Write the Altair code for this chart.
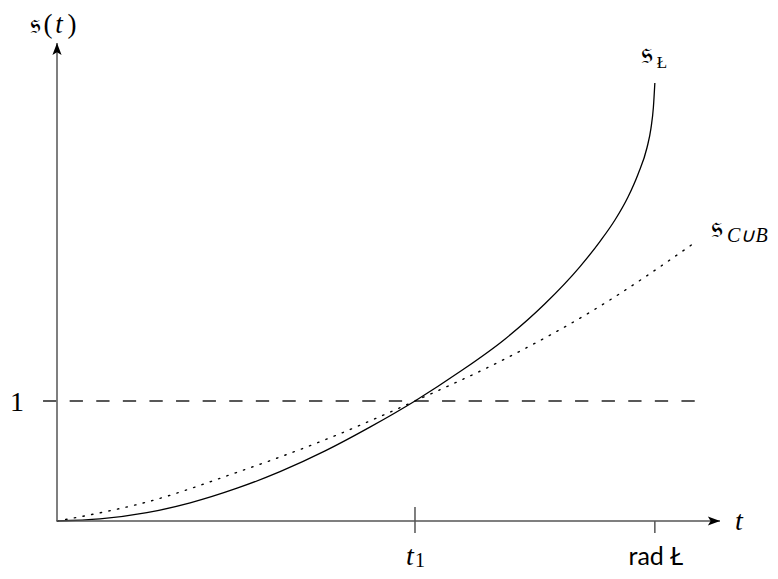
import altair as alt
import pandas as pd

# --- data (t in units of t1, s in units of the level 1) ---
solid_t = [0.0, 0.120, 0.251, 0.372, 0.503, 0.623, 0.749, 0.874, 1.0, 1.126, 1.251,
           1.363, 1.461, 1.517, 1.559, 1.595, 1.623, 1.648, 1.659, 1.666, 1.670]
solid_s = [0.0, 0.017, 0.069, 0.151, 0.273, 0.411, 0.584, 0.782, 1.0, 1.245, 1.515,
           1.810, 2.120, 2.330, 2.510, 2.700, 2.890, 3.110, 3.270, 3.450, 3.650]

dot_t = [0.0, 0.120, 0.251, 0.492, 0.749, 1.0, 1.251, 1.503, 1.788]
dot_s = [0.0, 0.068, 0.158, 0.394, 0.677, 1.0, 1.350, 1.765, 2.333]

T1 = 1.0          # t_1
RAD = 1.670       # rad Ł
LEVEL = 1.0       # the level 1
XMAX = 1.852      # end of t axis (arrow tip)
YMAX = 3.983      # end of s axis (arrow tip)
DASH_FROM = -0.039
DASH_TO = 1.788

AXIS_COL = "#555555"
SERIF = "Liberation Serif"
SANS = "Lato"
FRAK = "DejaVu Serif"

xs = alt.Scale(domain=[0, XMAX], nice=False, zero=False)
ys = alt.Scale(domain=[0, YMAX], nice=False, zero=False)


def X(f="t"):
    return alt.X(f"{f}:Q", scale=xs, axis=None)


def Y(f="s"):
    return alt.Y(f"{f}:Q", scale=ys, axis=None)


solid = pd.DataFrame({"t": solid_t, "s": solid_s})
dotted = pd.DataFrame({"t": dot_t, "s": dot_s})

solid_line = alt.Chart(solid).mark_line(color="black", strokeWidth=1.3,
                                        interpolate="monotone").encode(x=X(), y=Y())
dotted_line = alt.Chart(dotted).mark_line(color="black", strokeWidth=1.4,
                                          strokeDash=[1.4, 7.4], strokeCap="round",
                                          interpolate="monotone").encode(x=X(), y=Y())

dash = alt.Chart(pd.DataFrame({"t": [DASH_FROM], "t2": [DASH_TO], "s": [LEVEL]})).mark_rule(
    color="#222222", strokeWidth=1.4, strokeDash=[13.3, 13.3]
).encode(x=X(), x2="t2:Q", y=Y())

# axes
xaxis = alt.Chart(pd.DataFrame({"t": [0.0], "t2": [XMAX], "s": [0.0]})).mark_rule(
    color=AXIS_COL, strokeWidth=1.5).encode(x=X(), x2="t2:Q", y=Y())
yaxis = alt.Chart(pd.DataFrame({"t": [0.0], "s": [0.0], "s2": [YMAX]})).mark_rule(
    color=AXIS_COL, strokeWidth=1.5).encode(x=X(), y=Y(), y2="s2:Q")

ARROW = "M1,0 L-1,-0.75 L-0.55,0 L-1,0.75 Z"
xarrow = alt.Chart(pd.DataFrame({"t": [XMAX], "s": [0.0]})).mark_point(
    shape=ARROW, filled=True, size=150, color="black", opacity=1, xOffset=-6
).encode(x=X(), y=Y())
yarrow = alt.Chart(pd.DataFrame({"t": [0.0], "s": [YMAX]})).mark_point(
    shape=ARROW, filled=True, size=150, color="black", opacity=1, angle=270, yOffset=6
).encode(x=X(), y=Y())

ticks = alt.Chart(pd.DataFrame({"t": [T1, RAD], "s": [0.117, 0.0], "s2": [-0.1, -0.1]})).mark_rule(
    color=AXIS_COL, strokeWidth=1.5).encode(x=X(), y=Y(), y2="s2:Q")


def label(t, s, text, dx=0, dy=0, size=28, font=SERIF, style="normal",
          align="center", baseline="alphabetic"):
    return alt.Chart(pd.DataFrame({"t": [t], "s": [s]})).mark_text(
        text=text, dx=dx, dy=dy, fontSize=size, font=font, fontStyle=style,
        align=align, baseline=baseline, color="black"
    ).encode(x=X(), y=Y())


texts = [
    # y axis title  s(t)
    label(0.0, YMAX, "𝔰", dx=-22, dy=-10, size=28, font=FRAK),
    label(0.0, YMAX, "(", dx=-9, dy=-10, size=27),
    label(0.0, YMAX, "t", dx=2, dy=-10, size=27, style="italic"),
    label(0.0, YMAX, ")", dx=15, dy=-10, size=27),
    # x axis title
    label(XMAX, 0.0, "t", dx=19, dy=9, size=28, style="italic"),
    # level 1
    label(0.0, LEVEL, "1", dx=-40, dy=10, size=28),
    # t1
    label(T1, 0.0, "t", dx=-5, dy=44, size=28, style="italic"),
    label(T1, 0.0, "1", dx=5, dy=46, size=20),
    # rad Ł
    label(RAD, 0.0, "rad Ł", dx=1, dy=44, size=25, font=SANS),
    # curve labels
    label(RAD, solid_s[-1], "𝔰", dx=-8, dy=-20, size=31, font=FRAK),
    label(RAD, solid_s[-1], "Ł", dx=7, dy=-15, size=17, font=SERIF),
    label(dot_t[-1], dot_s[-1], "𝔰", dx=20, dy=-4, size=31, font=FRAK),
    label(dot_t[-1], dot_s[-1], "C∪B", dx=30, dy=1, size=20, font=SERIF,
          style="italic", align="left"),
]

chart = alt.layer(
    dash, dotted_line, solid_line, xaxis, yaxis, ticks, xarrow, yarrow, *texts
).properties(
    width=663, height=478,
    padding={"left": 49, "top": 35, "right": 50, "bottom": 50},
    autosize=alt.AutoSizeParams(type="none"),
    background="white",
).configure_view(strokeWidth=0, stroke="transparent")

chart.save("out.html", embed_options={"renderer": "svg", "actions": False})
